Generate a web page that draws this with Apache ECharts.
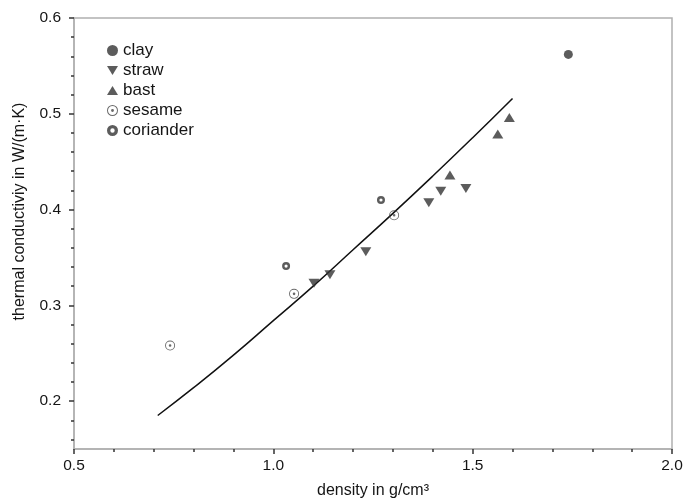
<!DOCTYPE html>
<html>
<head>
<meta charset="utf-8">
<script src="https://cdn.jsdelivr.net/npm/echarts@6/dist/echarts.min.js"></script>
<style>html,body{margin:0;padding:0;background:#fff}#c{width:686px;height:502px}</style>
</head>
<body>
<div id="c"></div>
<script>
// Data
const clay = [[1.74, 0.562]];
const straw = [[1.102, 0.323], [1.142, 0.332], [1.232, 0.356], [1.39, 0.407], [1.42, 0.419], [1.483, 0.422]];
const bast = [[1.443, 0.436], [1.563, 0.479], [1.592, 0.496]];
const sesame = [[0.741, 0.258], [1.052, 0.312], [1.303, 0.394]];
const coriander = [[1.032, 0.341], [1.27, 0.41]];
const fitCurve = [[0.71, 0.185], [0.8, 0.214], [0.9, 0.248], [1.0, 0.284], [1.1, 0.320], [1.2, 0.358], [1.3, 0.396], [1.4, 0.435], [1.5, 0.475], [1.6, 0.516]];
const yMajorTicks = [0.2, 0.3, 0.4, 0.5, 0.6];
const yMinorTicks = [0.16, 0.18, 0.22, 0.24, 0.26, 0.28, 0.32, 0.34, 0.36, 0.38, 0.42, 0.44, 0.46, 0.48, 0.52, 0.54, 0.56, 0.58];

const font = 'Liberation Sans, Arial, Helvetica, sans-serif';
const mark = '#333';
const txt = '#151515';
const downTri = 'path://M0,0 L12,0 L6,10 Z';
const upTri = 'path://M0,10 L12,10 L6,0 Z';
const target = 'path://M10,0 A10,10 0 1 1 10,20 A10,10 0 1 1 10,0 Z M10,1.8 A8.2,8.2 0 1 0 10,18.2 A8.2,8.2 0 1 0 10,1.8 Z M10,7.4 A2.6,2.6 0 1 1 10,12.6 A2.6,2.6 0 1 1 10,7.4 Z';
const ring = 'path://M10,0 A10,10 0 1 1 10,20 A10,10 0 1 1 10,0 Z M10,6 A4,4 0 1 0 10,14 A4,4 0 1 0 10,6 Z';

const chart = echarts.init(document.getElementById('c'));
chart.setOption({
  animation: false,
  backgroundColor: '#fff',
  textStyle: { fontFamily: font },
  grid: { left: 74, right: 14, top: 18, bottom: 53, outerBoundsMode: 'none', containLabel: false,
    show: true, borderColor: '#b0b0b0', borderWidth: 1.5, backgroundColor: 'transparent' },
  legend: {
    orient: 'vertical', left: 102, top: 37, itemWidth: 11, itemHeight: 11, itemGap: 3, itemSymbolKeepAspect: true,
    data: ['clay', 'straw', 'bast', 'sesame', 'coriander'],
    textStyle: { fontSize: 17, color: txt, fontFamily: font }
  },
  xAxis: {
    type: 'value', min: 0.5, max: 2.0, interval: 0.5,
    name: 'density in g/cm³', nameLocation: 'middle', nameGap: 34,
    nameTextStyle: { fontSize: 16, color: txt },
    axisLine: { show: true, onZero: false, lineStyle: { color: '#b0b0b0', width: 1.5 } },
    axisTick: { show: true, length: 5, lineStyle: { color: '#333', width: 1.5 } },
    minorTick: { show: true, splitNumber: 5, length: 3, lineStyle: { color: '#333', width: 1.5 } },
    axisLabel: { fontSize: 15.5, color: txt, margin: 9, formatter: v => v.toFixed(1) },
    splitLine: { show: false }
  },
  yAxis: [{
    type: 'value', min: 0.15, max: 0.6, position: 'left',
    name: 'thermal conductiviy in W/(m·K)', nameLocation: 'middle', nameGap: 46,
    nameTextStyle: { fontSize: 16, color: txt, padding: [0, 0, 0, 44] },
    axisLine: { show: true, onZero: false, lineStyle: { color: '#b0b0b0', width: 1.5 } },
    axisTick: { show: true, length: 5, customValues: yMajorTicks, lineStyle: { color: '#333', width: 1.5 } },
    axisLabel: { fontSize: 15.5, color: txt, margin: 13, customValues: yMajorTicks, formatter: v => v.toFixed(1) },
    splitLine: { show: false }
  }, {
    type: 'value', min: 0.15, max: 0.6, position: 'left', offset: 0,
    axisLine: { show: false },
    axisTick: { show: true, length: 3, customValues: yMinorTicks, lineStyle: { color: '#333', width: 1.5 } },
    axisLabel: { show: false, customValues: yMinorTicks },
    splitLine: { show: false }
  }],
  series: [
    { name: 'fit', type: 'line', data: fitCurve, smooth: true, showSymbol: false, symbol: 'none',
      lineStyle: { color: '#111', width: 1.5 }, z: 1 },
    { name: 'clay', type: 'scatter', data: clay, symbol: 'circle', symbolSize: 9, itemStyle: { color: mark }, z: 3 },
    { name: 'straw', type: 'scatter', data: straw, symbol: downTri, symbolSize: [11, 9], itemStyle: { color: mark }, z: 3 },
    { name: 'bast', type: 'scatter', data: bast, symbol: upTri, symbolSize: [11, 9], itemStyle: { color: mark }, z: 3 },
    { name: 'sesame', type: 'scatter', data: sesame, symbol: target, symbolSize: 10, itemStyle: { color: '#444' }, z: 3 },
    { name: 'coriander', type: 'scatter', data: coriander, symbol: ring, symbolSize: 8, itemStyle: { color: mark }, z: 3 }
  ]
});
</script>
</body>
</html>
